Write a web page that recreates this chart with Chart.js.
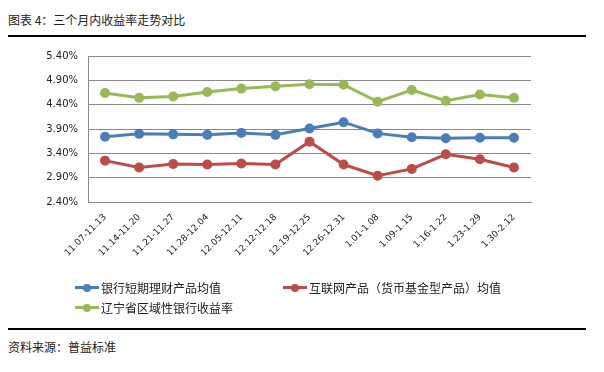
<!DOCTYPE html>
<html>
<head>
<meta charset="utf-8">
<script src="https://cdn.jsdelivr.net/npm/chart.js@4.4.0/dist/chart.umd.min.js"></script>
<style>
  body { margin:0; width:604px; height:372px; background:#fff; position:relative; overflow:hidden;
         font-family:"Noto Sans CJK SC", sans-serif; color:#222; }
  .title { position:absolute; left:8px; top:11px; font-size:12px; }
  .rule { position:absolute; left:8px; width:578px; height:2px; background:#000; }
  #wrap { position:absolute; left:0; top:40px; width:604px; height:240px; }
  .legend { position:absolute; font-size:12px; display:flex; align-items:center; }
  .sw { position:relative; width:24px; height:3px; margin-right:2px; }
  .sw i { position:absolute; left:8px; top:-2.5px; width:8px; height:8px; border-radius:50%; }
  .src { position:absolute; left:8px; top:338px; font-size:12px; }
</style>
</head>
<body>
<div class="title">图表 4：三个月内收益率走势对比</div>
<div class="rule" style="top:35px"></div>
<div id="wrap"><canvas id="myChart"></canvas></div>
<div class="legend" style="left:75px;top:279px"><div class="sw" style="background:#4A7EBB"><i style="background:#4A7EBB"></i></div>银行短期理财产品均值</div>
<div class="legend" style="left:283px;top:279px"><div class="sw" style="background:#BE4B48"><i style="background:#BE4B48"></i></div>互联网产品（货币基金型产品）均值</div>
<div class="legend" style="left:75px;top:299px"><div class="sw" style="background:#98B954"><i style="background:#98B954"></i></div>辽宁省区域性银行收益率</div>
<div class="rule" style="top:328px"></div>
<div class="src">资料来源：普益标准</div>
<script>
const weeks = ['11.07-11.13','11.14-11.20','11.21-11.27','11.28-12.04','12.05-12.11','12.12-12.18',
  '12.19-12.25','12.26-12.31','1.01-1.08','1.09-1.15','1.16-1.22','1.23-1.29','1.30-2.12'];
const bankShort = [3.74, 3.80, 3.79, 3.78, 3.82, 3.78, 3.91, 4.04, 3.81, 3.73, 3.71, 3.72, 3.72];
const internet = [3.25, 3.11, 3.18, 3.17, 3.19, 3.17, 3.64, 3.17, 2.94, 3.08, 3.38, 3.28, 3.11];
const liaoning = [4.64, 4.54, 4.57, 4.66, 4.73, 4.78, 4.82, 4.81, 4.46, 4.70, 4.48, 4.61, 4.54];
const yTicks = [2.40, 2.90, 3.40, 3.90, 4.40, 4.90, 5.40];

function series(label, data, color) {
  return { label, data, borderColor: color, backgroundColor: color, borderWidth: 3,
    pointRadius: 3.5, pointHoverRadius: 3.5, tension: 0 };
}

const config = {
  type: 'line',
  data: {
    labels: weeks,
    datasets: [
      series('银行短期理财产品均值', bankShort, '#4A7EBB'),
      series('互联网产品（货币基金型产品）均值', internet, '#BE4B48'),
      series('辽宁省区域性银行收益率', liaoning, '#98B954')
    ]
  },
  options: {
    responsive: true,
    maintainAspectRatio: false,
    animation: false,
    layout: { padding: { top: 14, right: 73, left: 0, bottom: 0 } },
    plugins: { legend: { display: false }, tooltip: { enabled: false } },
    scales: {
      x: {
        offset: true,
        grid: { display: false },
        border: { color: '#888', width: 1 },
        ticks: { maxRotation: 45, minRotation: 45, autoSkip: false, color: '#222',
          font: { family: 'DejaVu Sans', size: 9 }, padding: 2 },
        afterFit: s => { s.height = 78; }
      },
      y: {
        min: 2.40, max: 5.40,
        afterBuildTicks: s => { s.ticks = yTicks.map(v => ({ value: v })); },
        grid: { color: '#888', drawTicks: false },
        border: { color: '#888', width: 1 },
        ticks: { color: '#222', padding: 10, font: { family: 'DejaVu Sans', size: 10 },
          callback: v => v.toFixed(2) + '%' },
        afterFit: s => { s.width = 88; }
      }
    }
  }
};

const myChart = new Chart(document.getElementById('myChart').getContext('2d'), config);
</script>
</body>
</html>
